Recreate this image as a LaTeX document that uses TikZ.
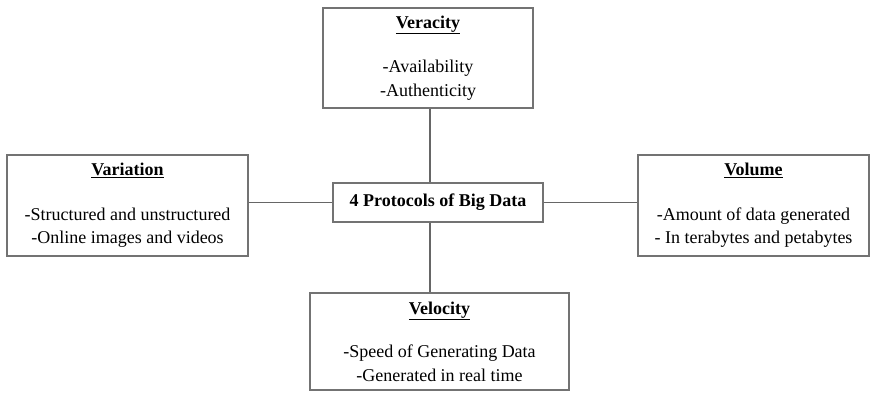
\documentclass[tikz,border=0pt]{standalone}
\usepackage{fontspec}
\setmainfont{Liberation Serif}
\begin{document}
\begin{tikzpicture}[x=1pt,y=-1pt,
  box/.style={draw=black!55, line width=1.1pt, rectangle, align=center, inner sep=0pt,
    font=\fontsize{18}{23.5}\selectfont},
  link/.style={draw=black!60, line width=1.2pt}]
\useasboundingbox (0,0) rectangle (874,394);
\newcommand{\ttl}[1]{\underline{\textbf{#1}}}
\node[box, minimum width=210, minimum height=100] (ver) at (428,58)
  {\ttl{Veracity}\\[21pt]-Availability\\-Authenticity};
\node[box, minimum width=210, minimum height=39, font=\fontsize{18}{20}\selectfont\bfseries] (cen) at (438,202.5)
  {4 Protocols of Big Data};
\node[box, minimum width=241, minimum height=101] (var) at (127.5,205.5)
  {\ttl{Variation}\\[21pt]-Structured and unstructured\\-Online images and videos};
\node[box, minimum width=231, minimum height=101] (vol) at (753.5,205.5)
  {\ttl{Volume}\\[21pt]-Amount of data generated\\- In terabytes and petabytes};
\node[box, minimum width=259, minimum height=97] (vel) at (439.5,341.5)
  {\ttl{Velocity}\\[20pt]-Speed of Generating Data\\-Generated in real time};
\coordinate (vtop) at (430,108);
\draw[link] (ver.south -| vtop) -- (cen.north -| vtop);
\draw[link] (cen.south -| vtop) -- (vel.north -| vtop);
\draw[link] (var.east |- cen) -- (cen.west);
\draw[link] (cen.east) -- (vol.west |- cen);
\end{tikzpicture}
\end{document}
